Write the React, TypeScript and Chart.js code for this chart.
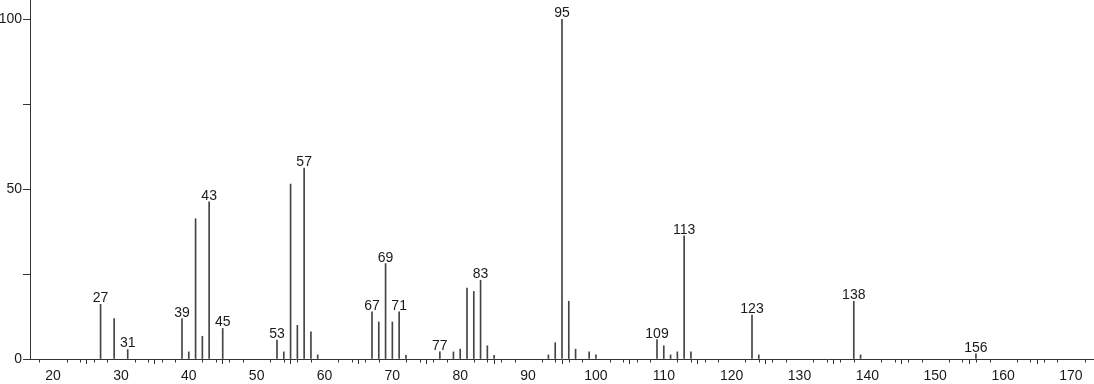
import React, { useEffect, useRef } from 'react';
import { Chart, registerables } from 'chart.js';

Chart.register(...registerables);

// m/z values of the peaks
const mz = [27, 29, 31, 39, 40, 41, 42, 43, 45, 53, 54, 55, 56, 57, 58, 59, 67, 68, 69, 70, 71, 72, 77, 79, 80, 81, 82, 83, 84, 85, 93, 94, 95, 96, 97, 99, 100, 109, 110, 111, 112, 113, 114, 123, 124, 138, 139, 156];
// relative intensities (%)
const intensity = [16.1, 11.9, 2.8, 11.9, 2.1, 41.3, 6.7, 46.3, 9.0, 5.6, 2.1, 51.5, 9.9, 56.2, 8.0, 1.2, 13.9, 10.9, 28.1, 10.9, 13.9, 1.1, 2.1, 2.1, 2.9, 20.9, 19.9, 23.2, 3.9, 1.1, 1.2, 4.8, 100, 17.0, 2.9, 2.1, 1.2, 5.7, 3.9, 1.2, 2.1, 36.3, 2.1, 12.9, 1.2, 17.0, 1.2, 1.5];
// peaks carrying a label
const labeledPeaks = [27, 31, 39, 43, 45, 53, 57, 67, 69, 71, 77, 83, 95, 109, 113, 123, 138, 156];
// axis ticks
const xMajorTicks = [20, 30, 40, 50, 60, 70, 80, 90, 100, 110, 120, 130, 140, 150, 160, 170];
const xMinorTicks = [18, 22, 24, 26, 28, 32, 34, 36, 38, 42, 44, 46, 48, 52, 54, 56, 58, 62, 64, 66, 68, 72, 74, 76, 78, 82, 84, 86, 88, 92, 94, 96, 98, 102, 104, 106, 108, 112, 114, 116, 118, 122, 124, 126, 128, 132, 134, 136, 138, 142, 144, 146, 148, 152, 154, 156, 158, 162, 164, 166, 168, 172];
const yTicks = [0, 25, 50, 75, 100];
const yTickLabels = ['0', '', '50', '', '100'];

const X_MIN = 16.6;
const X_MAX = 173.4;
const Y_MAX = 105.7;

const AXIS_COLOR = '#333333';
const PEAK_COLOR = '#444444';
const FONT = '"Liberation Sans", Arial, sans-serif';

const peakLabelPlugin = {
  id: 'peakLabels',
  afterDatasetsDraw(chart: any) {
    const { ctx, scales } = chart;
    const xs = scales.x;
    const ys = scales.y;
    ctx.save();
    ctx.font = `14px ${FONT}`;
    ctx.fillStyle = '#1a1a1a';
    ctx.textAlign = 'center';
    ctx.textBaseline = 'alphabetic';
    labeledPeaks.forEach((m) => {
      const i = mz.indexOf(m);
      if (i < 0) return;
      const x = xs.getPixelForValue(m);
      const y = ys.getPixelForValue(intensity[i]);
      ctx.fillText(String(m), x, y - 2);
    });
    ctx.restore();
  },
  afterDraw(chart: any) {
    const { ctx, scales } = chart;
    const xs = scales.x;
    const base = Math.round(xs.top) + 0.5;
    ctx.save();
    ctx.strokeStyle = AXIS_COLOR;
    ctx.lineWidth = 1;
    ctx.beginPath();
    xMinorTicks.forEach((v) => {
      const px = Math.round(xs.getPixelForValue(v)) + 0.5;
      ctx.moveTo(px, base);
      ctx.lineTo(px, base + 3);
    });
    ctx.stroke();
    ctx.restore();
  },
};

export default function App() {
  const canvasRef = useRef<HTMLCanvasElement | null>(null);

  useEffect(() => {
    document.body.style.margin = '0';
    const canvas = canvasRef.current;
    if (!canvas) return;
    const chart = new Chart(canvas, {
      type: 'bar',
      data: {
        datasets: [
          {
            data: mz.map((m, i) => ({ x: m, y: intensity[i] })),
            backgroundColor: PEAK_COLOR,
            borderWidth: 0,
            barThickness: 1,
          },
        ],
      },
      options: {
        animation: false,
        responsive: true,
        maintainAspectRatio: false,
        layout: { padding: 0 },
        plugins: {
          legend: { display: false },
          tooltip: { enabled: false },
        },
        scales: {
          x: {
            type: 'linear',
            min: X_MIN,
            max: X_MAX,
            offset: false,
            afterBuildTicks: (scale: any) => {
              scale.ticks = xMajorTicks.map((v) => ({ value: v }));
            },
            afterFit: (scale: any) => {
              scale.height = 25;
              scale.paddingLeft = 0;
              scale.paddingRight = 0;
              scale.paddingTop = 0;
              scale.paddingBottom = 0;
            },
            grid: {
              drawOnChartArea: false,
              drawTicks: true,
              tickLength: 5,
              color: AXIS_COLOR,
              tickColor: AXIS_COLOR,
            },
            border: { display: true, color: AXIS_COLOR, width: 1 },
            ticks: {
              autoSkip: false,
              maxRotation: 0,
              padding: 4,
              color: '#1a1a1a',
              font: { family: FONT, size: 14 },
              callback: (v: any) => String(v),
            },
          },
          y: {
            type: 'linear',
            min: 0,
            max: Y_MAX,
            afterBuildTicks: (scale: any) => {
              scale.ticks = yTicks.map((v) => ({ value: v }));
            },
            afterFit: (scale: any) => {
              scale.width = 30;
              scale.paddingLeft = 0;
              scale.paddingRight = 0;
              scale.paddingTop = 0;
              scale.paddingBottom = 0;
            },
            grid: {
              drawOnChartArea: false,
              drawTicks: true,
              tickLength: 7,
              color: AXIS_COLOR,
              tickColor: AXIS_COLOR,
            },
            border: { display: true, color: AXIS_COLOR, width: 1 },
            ticks: {
              autoSkip: false,
              padding: 1,
              color: '#1a1a1a',
              font: { family: FONT, size: 14 },
              callback: (_v: any, i: number) => yTickLabels[i],
            },
          },
        },
      },
      plugins: [peakLabelPlugin],
    });
    return () => chart.destroy();
  }, []);

  return (
    <div style={{ width: '1094px', height: '384px', position: 'relative' }}>
      <canvas ref={canvasRef} />
    </div>
  );
}
